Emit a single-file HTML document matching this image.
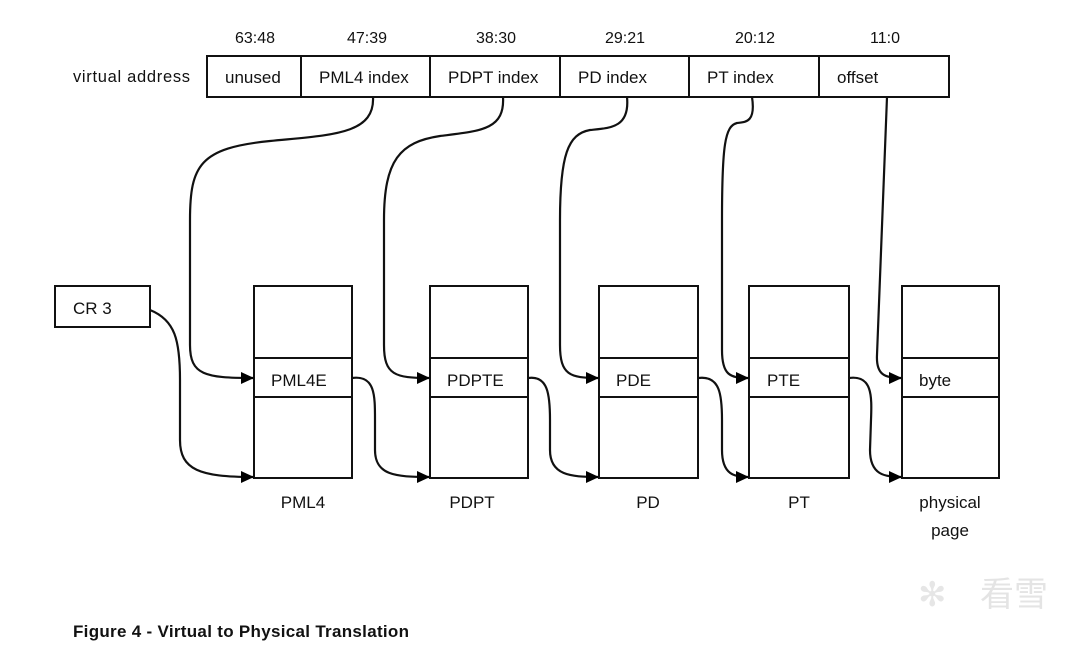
<!DOCTYPE html>
<html><head><meta charset="utf-8"><style>
html,body{margin:0;padding:0;background:#fff;}
svg{display:block;font-family:"Liberation Sans","Noto Sans CJK SC",sans-serif;}
</style></head><body>
<svg width="1087" height="653" viewBox="0 0 1087 653" xmlns="http://www.w3.org/2000/svg">
<defs><marker id="a" markerWidth="13" markerHeight="12" refX="12" refY="6" orient="auto" markerUnits="userSpaceOnUse"><path d="M0,0 L13,6 L0,12 z" fill="#000"/></marker></defs>
<g font-size="16" fill="#111" text-anchor="middle">
<text x="255" y="43">63:48</text><text x="367" y="43">47:39</text><text x="496" y="43">38:30</text>
<text x="625" y="43">29:21</text><text x="755" y="43">20:12</text><text x="885" y="43">11:0</text>
</g>
<text x="73" y="82" font-size="16.5" fill="#111" textLength="117">virtual address</text>
<g fill="none" stroke="#111" stroke-width="2">
<rect x="207" y="56" width="742" height="41"/>
<path d="M301 56V97M430 56V97M560 56V97M689 56V97M819 56V97"/>
</g>
<g font-size="17" fill="#111">
<text x="225" y="83">unused</text><text x="319" y="83">PML4 index</text><text x="448" y="83">PDPT index</text>
<text x="578" y="83">PD index</text><text x="707" y="83">PT index</text><text x="837" y="83">offset</text>
</g>
<g fill="none" stroke="#111" stroke-width="2">
<rect x="55" y="286" width="95" height="41"/>
<rect x="254" y="286" width="98" height="192"/><path d="M254 358H352M254 397H352"/>
<rect x="430" y="286" width="98" height="192"/><path d="M430 358H528M430 397H528"/>
<rect x="599" y="286" width="99" height="192"/><path d="M599 358H698M599 397H698"/>
<rect x="749" y="286" width="100" height="192"/><path d="M749 358H849M749 397H849"/>
<rect x="902" y="286" width="97" height="192"/><path d="M902 358H999M902 397H999"/>
</g>
<g font-size="17" fill="#111">
<text x="73" y="314">CR 3</text>
<text x="271" y="386">PML4E</text><text x="447" y="386">PDPTE</text><text x="616" y="386">PDE</text>
<text x="767" y="386">PTE</text><text x="919" y="386">byte</text>
</g>
<g font-size="17" fill="#111" text-anchor="middle">
<text x="303" y="508">PML4</text><text x="472" y="508">PDPT</text><text x="648" y="508">PD</text>
<text x="799" y="508">PT</text><text x="950" y="508">physical</text><text x="950" y="536">page</text>
</g>
<g fill="none" stroke="#111" stroke-width="2.2" marker-end="url(#a)">
<path d="M373 97 C375 135 330 135 270 141 C200 148 190 165 190 220 L190 345 C190 375 205 378 253 378"/>
<path d="M503 97 C505 130 480 131 440 136 C400 142 384 160 384 220 L384 345 C384 375 395 378 429 378"/>
<path d="M627 97 C630 128 610 128 590 130 C568 134 560 155 560 220 L560 345 C560 375 570 378 598 378"/>
<path d="M752 97 C756 123 745 122 737 123 C725 126 722 145 722 220 L722 350 C722 375 730 378 748 378"/>
<path d="M887 97 L877 355 C876 375 885 378 901 378"/>
<path d="M150 310 C175 320 180 340 180 380 L180 440 C180 470 200 477 253 477"/>
<path d="M352 378 C375 375 375 395 375 420 L375 450 C375 475 395 477 429 477"/>
<path d="M528 378 C548 375 550 395 550 420 L550 450 C550 475 570 477 598 477"/>
<path d="M698 378 C720 375 722 395 722 420 L722 450 C722 475 735 477 748 477"/>
<path d="M849 378 C872 375 872 395 871 420 L870 450 C870 475 885 477 901 477"/>
</g>
<text x="73" y="637" font-size="17" font-weight="bold" fill="#111" textLength="336">Figure 4 - Virtual to Physical Translation</text>
<text x="918" y="606" font-size="34" fill="#e6e6e6">✻</text>
<text x="980" y="606" font-size="34" fill="#e4e4e4">看雪</text>
</svg>
</body></html>
